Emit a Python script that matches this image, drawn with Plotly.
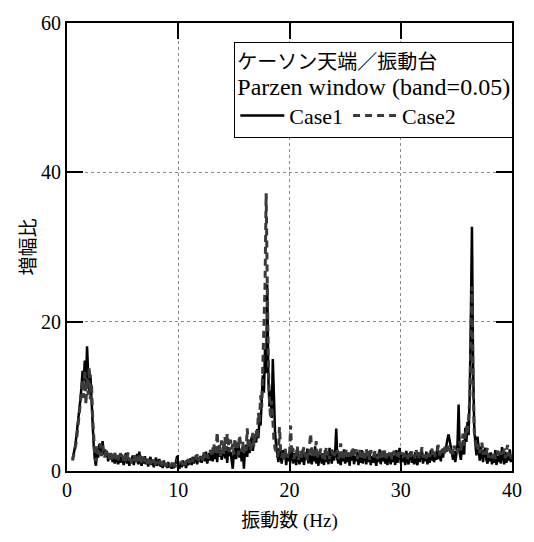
import numpy as np
import plotly.graph_objects as go

# frequency axis (Hz), sampled every 0.1 Hz from 0.5 to 40.0
freq = np.round(np.arange(5, 401) / 10.0, 1)

case1 = [
    1.6, 2.2, 3.0, 4.1, 5.3,
    6.6, 8.0, 9.5, 11.2, 13.4, 12.1, 14.8, 11.0, 16.7, 13.2,
    10.4, 12.9, 9.1, 6.2, 3.4, 1.6, 0.7, 2.8, 1.8, 3.6,
    2.4, 3.1, 4.0, 2.2, 2.9, 1.9, 2.6, 1.3, 2.3, 1.8,
    2.1, 1.2, 1.9, 1.0, 2.0, 1.6, 0.9, 1.8, 1.1, 2.2,
    1.5, 0.8, 1.7, 2.4, 1.0, 1.9, 0.7, 1.6, 1.1, 2.1,
    0.8, 1.8, 1.2, 2.3, 0.9, 2.6, 1.3, 0.7, 1.7, 1.0,
    2.0, 0.9, 1.6, 0.6, 1.4, 1.9, 0.8, 1.5, 0.5, 1.3,
    1.8, 0.7, 1.2, 1.6, 0.6, 1.1, 0.4, 1.4, 0.7, 1.0,
    0.4, 1.2, 0.5, 0.9, 0.3, 1.1, 0.4, 0.8, 1.3, 2.0,
    0.6, 0.3, 1.1, 0.5, 1.4, 0.7, 1.2, 0.4, 1.5, 0.8,
    1.3, 1.7, 0.8, 1.9, 1.0, 1.6, 2.1, 0.9, 1.8, 1.2,
    2.0, 1.1, 1.7, 2.3, 1.3, 2.6, 1.0, 1.9, 2.4, 1.4,
    2.2, 1.3, 3.0, 1.6, 2.7, 1.2, 3.3, 1.9, 2.8, 1.5,
    2.5, 3.6, 1.7, 2.9, 1.1, 3.2, 2.0, 2.6, 1.4, 0.3,
    2.4, 3.1, 1.6, 2.7, 3.8, 1.8, 2.9, 1.3, 3.4, 0.3,
    2.8, 3.5, 1.9, 4.2, 2.4, 3.3, 4.6, 2.7, 3.7, 4.9,
    3.8, 5.6, 4.4, 7.0, 6.1, 9.2, 12.8, 10.5, 16.3, 13.1,
    25.0, 12.4, 8.6, 10.8, 7.1, 15.0, 8.3, 5.2, 3.4, 2.3,
    1.2, 3.1, 2.0, 1.0, 2.8, 1.5, 2.5, 0.8, 2.1, 1.3,
    2.6, 1.4, 3.2, 1.0, 2.4, 1.6, 0.8, 2.7, 1.7, 0.9,
    2.3, 1.2, 2.9, 0.8, 2.1, 1.5, 3.0, 1.0, 2.2, 1.6,
    0.9, 2.5, 1.3, 3.3, 1.0, 2.0, 0.7, 2.6, 1.5, 1.0,
    2.4, 0.8, 2.8, 1.2, 2.1, 0.9, 3.1, 1.6, 1.0, 2.7,
    1.4, 2.3, 5.7, 1.6, 1.0, 2.6, 0.8, 2.2, 1.3, 2.9,
    1.0, 2.1, 1.2, 2.5, 0.7, 2.3, 1.4, 3.0, 0.9, 2.0,
    1.3, 2.6, 0.8, 2.2, 1.1, 2.8, 1.0, 1.9, 2.4, 0.9,
    2.1, 1.2, 2.7, 0.8, 2.0, 1.1, 2.5, 1.4, 0.7, 2.3,
    1.2, 2.9, 0.9, 2.2, 1.3, 2.6, 1.0, 2.0, 0.8, 2.4,
    1.4, 0.9, 2.5, 1.2, 2.1, 0.8, 2.8, 1.1, 2.2, 3.1,
    1.0, 2.0, 1.2, 2.4, 0.8, 2.7, 1.4, 0.9, 2.2, 2.6,
    1.1, 2.1, 0.9, 2.5, 1.3, 0.8, 2.3, 1.2, 2.0, 2.9,
    1.0, 2.2, 1.3, 2.6, 0.9, 2.0, 1.1, 2.8, 1.4, 2.3,
    1.2, 2.4, 1.5, 3.4, 1.6, 2.6, 1.3, 2.9, 1.8, 3.1,
    2.5, 3.8, 4.3, 4.9, 4.1, 3.3, 2.0, 1.5, 2.7, 1.2,
    2.3, 3.5, 8.9, 2.4, 1.5, 3.2, 4.1, 2.2, 5.8, 3.9,
    6.6, 4.8, 10.2, 20.5, 32.7, 14.6, 6.1, 3.8, 2.1, 4.6,
    2.9, 1.4, 3.3, 1.8, 1.2, 2.7, 3.1, 1.5, 1.0, 2.4,
    1.3, 2.5, 0.9, 2.1, 1.1, 2.8, 0.8, 2.0, 1.2, 2.3,
    1.0, 3.2, 1.5, 0.9, 2.6, 1.1, 2.2, 1.4, 2.9, 1.2,
    2.1,
]

case2 = [
    1.4, 2.0, 2.7, 3.6, 4.8,
    6.0, 7.4, 9.1, 10.6, 12.3, 9.8, 13.6, 8.9, 12.5, 10.2,
    13.9, 9.6, 11.8, 7.4, 4.1, 2.0, 1.3, 3.3, 2.2, 2.9,
    3.7, 2.0, 3.4, 2.6, 1.8, 3.0, 2.1, 2.7, 1.6, 2.4,
    1.5, 2.3, 1.7, 2.5, 1.4, 2.1, 1.8, 1.3, 2.4, 1.6,
    2.0, 1.4, 2.2, 1.1, 1.8, 2.5, 1.3, 2.0, 1.0, 1.7,
    1.4, 2.1, 1.2, 1.6, 2.0, 1.3, 2.4, 1.1, 1.5, 1.9,
    1.2, 1.6, 1.0, 1.9, 1.3, 0.9, 1.7, 1.1, 1.5, 0.8,
    1.3, 1.1, 1.6, 0.9, 1.4, 0.7, 1.2, 0.9, 1.3, 0.6,
    1.1, 0.8, 1.0, 0.6, 0.9, 0.7, 1.2, 0.5, 0.9, 1.6,
    1.1, 0.7, 0.9, 1.3, 0.8, 1.2, 0.7, 1.4, 1.0, 1.6,
    1.1, 1.5, 1.9, 1.2, 1.7, 1.4, 1.8, 2.2, 1.3, 1.9,
    1.6, 2.1, 1.4, 2.5, 1.8, 1.5, 2.2, 1.7, 2.0, 2.8,
    1.9, 2.6, 3.7, 2.2, 3.0, 5.2, 2.4, 3.5, 2.0, 4.1,
    3.1, 2.3, 4.6, 2.7, 5.0, 3.3, 2.5, 4.2, 2.9, 3.6,
    2.2, 4.4, 2.8, 3.6, 2.1, 4.8, 3.2, 2.6, 3.9, 2.4,
    3.5, 2.7, 5.7, 3.1, 4.0, 2.8, 3.8, 5.1, 3.3, 4.5,
    5.5, 4.2, 7.8, 6.4, 10.1, 8.5, 13.7, 17.5, 24.8, 37.2,
    21.6, 13.9, 9.7, 7.0, 9.4, 5.8, 4.2, 3.0, 2.6, 1.9,
    2.5, 5.9, 2.8, 1.8, 2.4, 1.5, 3.0, 2.0, 1.6, 2.3,
    1.8, 6.1, 2.3, 3.1, 1.6, 2.5, 2.0, 3.4, 1.5, 2.2,
    2.8, 1.7, 2.4, 3.2, 1.9, 2.6, 1.4, 2.1, 3.5, 5.0,
    2.4, 1.8, 2.9, 2.0, 4.0, 1.6, 2.5, 1.9, 3.0, 2.1,
    1.7, 2.6, 1.5, 3.2, 2.2, 2.7, 1.6, 2.4, 2.9, 1.8,
    2.5, 1.9, 2.2, 2.8, 1.6, 2.0, 3.7, 1.8, 2.6, 1.5,
    2.3, 2.8, 1.9, 2.4, 1.7, 2.1, 2.6, 3.2, 1.8, 2.2,
    2.9, 1.6, 2.3, 2.8, 2.0, 1.5, 2.6, 2.2, 1.7, 3.0,
    1.9, 2.4, 1.5, 2.8, 2.2, 1.8, 2.0, 2.7, 2.4, 1.6,
    2.6, 1.8, 2.3, 2.7, 1.5, 2.1, 2.9, 1.7, 2.5, 2.0,
    2.4, 2.8, 1.6, 2.2, 2.7, 1.9, 2.3, 2.0, 2.6, 1.8,
    2.5, 1.7, 2.1, 2.8, 1.9, 2.3, 1.6, 2.0, 2.4, 1.8,
    2.6, 1.9, 2.2, 1.7, 2.8, 2.0, 1.6, 2.5, 2.1, 3.2,
    1.8, 2.4, 2.0, 1.7, 2.7, 2.2, 1.9, 2.5, 3.0, 2.0,
    2.6, 1.9, 2.3, 2.8, 3.5, 2.1, 2.7, 2.4, 3.0, 2.2,
    3.3, 2.6, 3.0, 3.6, 2.8, 2.4, 3.1, 2.2, 3.4, 2.7,
    3.0, 2.5, 3.2, 4.0, 2.7, 3.6, 5.0, 3.4, 4.4, 6.0,
    4.8, 7.2, 9.5, 16.8, 24.7, 12.5, 5.4, 4.0, 3.2, 2.7,
    3.6, 2.4, 2.9, 3.8, 2.2, 2.6, 1.9, 2.5, 3.1, 1.8,
    2.4, 2.1, 1.7, 2.6, 2.0, 1.6, 2.3, 2.7, 1.8, 2.1,
    2.6, 1.9, 2.2, 3.0, 1.7, 2.4, 3.5, 2.0, 2.3, 1.6,
    2.2,
]

x_ticks = [0, 10, 20, 30, 40]
y_ticks = [0, 20, 40, 60]

FONT = "Liberation Serif, 'Times New Roman', 'Noto Sans CJK JP', serif"

fig = go.Figure()
fig.add_trace(go.Scatter(x=freq, y=case1, mode="lines", name="Case1",
                         line=dict(color="#000000", width=2.5)))
fig.add_trace(go.Scatter(x=freq, y=case2, mode="lines", name="Case2",
                         line=dict(color="#3a3a3a", width=3, dash="7px,5px")))

axis_common = dict(
    showline=True, linecolor="black", linewidth=2, mirror="ticks",
    ticks="inside", ticklen=16, tickwidth=1.5, tickcolor="black",
    showgrid=True, gridcolor="#8a8a8a", griddash="dot", gridwidth=1,
    zeroline=False, tickfont=dict(family=FONT, size=20, color="black"),
)

fig.update_layout(
    width=534, height=542,
    margin=dict(l=67, r=14, t=19, b=71),
    paper_bgcolor="white", plot_bgcolor="white",
    font=dict(family=FONT, color="black"),
    xaxis=dict(range=[0, 40], tickvals=x_ticks,
               title=dict(text="振動数 (Hz)", font=dict(family=FONT, size=19), standoff=14),
               **axis_common),
    yaxis=dict(range=[0, 60], tickvals=y_ticks,
               title=dict(text="増幅比", font=dict(family=FONT, size=19), standoff=0),
               **axis_common),
    legend=dict(
        x=0.376, y=0.958, xanchor="left", yanchor="top",
        orientation="h", bgcolor="white", bordercolor="black", borderwidth=1,
        font=dict(family=FONT, size=22, color="black"),
        itemwidth=44, tracegroupgap=0,
        title=dict(text="ケーソン天端／振動台<br><span style='font-size:24px'>Parzen window (band=0.05)</span>",
                   side="top", font=dict(family=FONT, size=20)),
    ),
)

fig.write_html("out.html")
